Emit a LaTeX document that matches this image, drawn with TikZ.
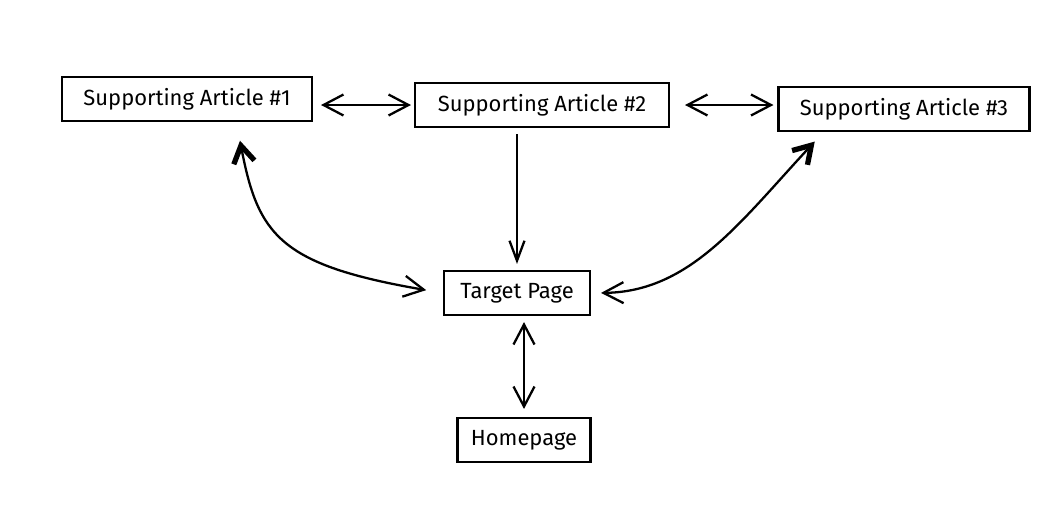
\documentclass[tikz,border=0pt]{standalone}
\usepackage{fontspec}
\setmainfont{Fira Sans}
\usetikzlibrary{shapes,arrows.meta}

\begin{document}
\begin{tikzpicture}[x=0.02cm, y=-0.02cm]
		\tikzstyle {page box} = [draw, line width=1.2pt, rectangle, inner sep=0pt, minimum height=0.88cm, font=\fontsize{12.5}{15}\selectfont]
		\tikzstyle {link} = [line width=1.3pt, {Straight Barb[length=0.4cm, width=0.42cm]}-{Straight Barb[length=0.4cm, width=0.42cm]}]
		\tikzstyle {heavy link} = [line width=1.3pt, {Straight Barb[length=0.34cm, width=0.42cm, line width=3pt]}-{Straight Barb[length=0.4cm, width=0.42cm]}]
		\tikzstyle {one way} = [line width=1.3pt, -{Straight Barb[length=0.4cm, width=0.3cm]}]

		\useasboundingbox (0,0) rectangle (1039,518);

		\node[page box, minimum width=5.0cm]  (sa1) at (187, 99)  {Supporting Article \#1};
		\node[page box, minimum width=5.08cm] (sa2) at (542, 105) {Supporting Article \#2};
		\node[page box, minimum width=5.02cm] (sa3) at (904, 109) {Supporting Article \#3};
		\node[page box, minimum width=2.92cm] (tgt) at (517, 293) {Target Page};
		\node[page box, minimum width=2.66cm] (home) at (524, 440) {Homepage};

		\draw[link, shorten <=0.16cm, shorten >=0.06cm] (sa2.west -| sa1.east) -- (sa2.west);
		\draw[link, shorten <=0.3cm, shorten >=0.08cm] (sa2.east) -- (sa2.east -| sa3.west);
		\draw[one way, shorten <=0.12cm, shorten >=0.12cm] (tgt |- sa2.south) -- (tgt.north);
		\draw[link, shorten <=0.12cm, shorten >=0.16cm] (home |- tgt.south) -- (home.north);

		% curved links to the outer articles
		\draw[heavy link, shorten <=0.38cm, shorten >=0.34cm] (sa1.-25) .. controls (258,235) and (280,265) .. (tgt.west);
		\draw[heavy link, shorten <=0.26cm, shorten >=0.2cm] (sa3.-164) .. controls (740,222) and (690,292) .. (tgt.east);
	\end{tikzpicture}
\end{document}
